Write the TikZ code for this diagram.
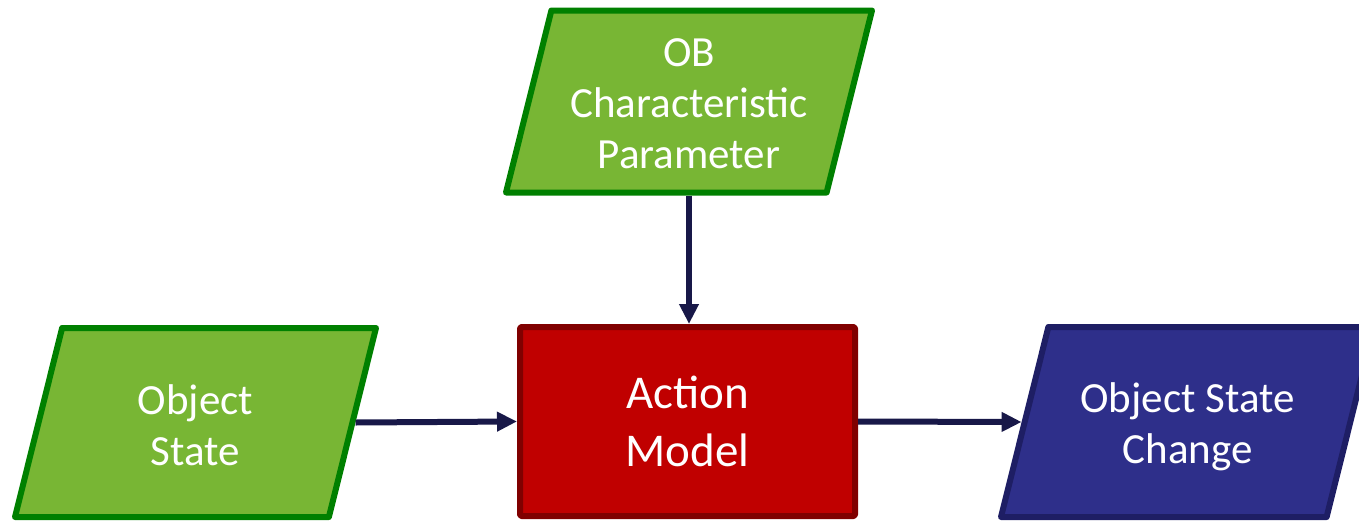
\documentclass[tikz,border=0pt]{standalone}
\usepackage{fontspec}
\setmainfont{Carlito}
\usetikzlibrary{shapes.geometric,arrows.meta}

\definecolor{inFill}{RGB}{120,182,52}
\definecolor{inLine}{RGB}{0,128,0}
\definecolor{actFill}{RGB}{192,0,0}
\definecolor{actLine}{RGB}{128,0,0}
\definecolor{outFill}{RGB}{46,47,138}
\definecolor{outLine}{RGB}{30,30,100}
\definecolor{flow}{RGB}{24,24,72}

\tikzset{
  datashape/.style={trapezium, trapezium left angle=76, trapezium right angle=104,
    trapezium stretches body=true, line width=4.5pt, line join=round,
    inner xsep=0pt, minimum height=0pt},
  inputbox/.style={datashape, draw=inLine, fill=inFill},
  outputbox/.style={datashape, draw=outLine, fill=outFill},
  datatext/.style={text=white, align=center, inner sep=0pt,
    font=\fontsize{32.25}{38.25}\selectfont},
  processbox/.style={rectangle, draw=actLine, fill=actFill, line width=4.5pt,
    line join=round, rounded corners=1pt, text=white, align=center,
    font=\fontsize{35.25}{43.5}\selectfont},
  flowarrow/.style={draw=flow, line width=4.5pt,
    -{Triangle[length=15pt,width=14pt]}},
}

\begin{document}
\begin{tikzpicture}[x=0.75pt,y=-0.75pt]
  \clip (0,0) rectangle (1359,521);

  % data shapes (height set through inner ysep, width through minimum width)
  \node[inputbox, inner ysep=68.25pt, minimum width=274.5pt]
    (param) at (689,101.5) {};
  \node[inputbox, inner ysep=70.875pt, minimum width=270.75pt]
    (state) at (195.5,422.5) {};
  \node[outputbox, inner ysep=71.25pt, minimum width=279.75pt]
    (change) at (1187.5,422) {};
  \node[processbox, minimum width=251.25pt, minimum height=141.75pt]
    (action) at (687.5,421.5) {Action\\Model};

  % labels of the data shapes
  \node[datatext, yshift=-1.5pt] (paramtext) at (param.center)
    {OB\\Characteristic\\Parameter};
  \node[datatext, yshift=-2.25pt] (statetext) at (state.center) {Object\\State};
  \node[datatext, yshift=-3.75pt] (changetext) at (change.center)
    {Object State\\Change};

  \draw[flowarrow] (param.south) -- (param.south |- action.north);
  \draw[flowarrow] (state.east) -- (action.west);
  \draw[flowarrow] (action.east) -- (change.west);
\end{tikzpicture}
\end{document}
